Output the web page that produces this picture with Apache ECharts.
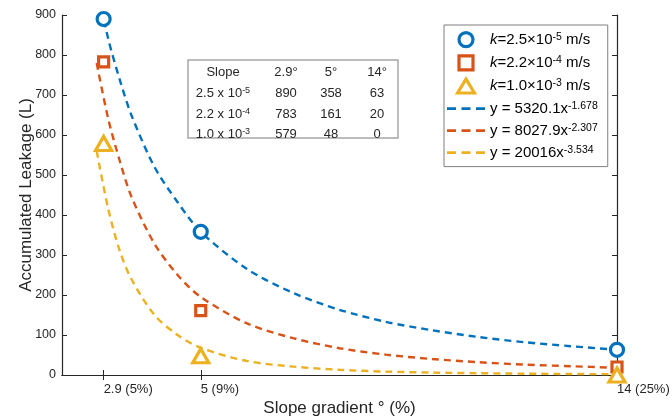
<!DOCTYPE html>
<html>
<head>
<meta charset="utf-8">
<script src="https://cdn.jsdelivr.net/npm/echarts@6/dist/echarts.min.js"></script>
<style>
  html, body { margin: 0; padding: 0; background: #fff; }
  #chart { width: 672px; height: 418px; }
</style>
</head>
<body>
<div id="chart"></div>
<script>
// measured leakage at each slope
const slopeDeg = [2.9, 5, 14];
const slopePct = ['5%', '9%', '25%'];
const leakK1 = [890, 358, 63];   // k = 2.5e-5 m/s
const leakK2 = [783, 161, 20];   // k = 2.2e-4 m/s
const leakK3 = [579, 48, 0];     // k = 1.0e-3 m/s

const kBase = ['2.5', '2.2', '1.0'];
const kExp = ['-5', '-4', '-3'];

// fitted power curves
const fitX = [2.75, 3, 3.25, 3.5, 4, 4.5, 5, 6, 7, 8, 9, 10, 11, 12, 13, 14];
const fitK1 = [975, 840, 738, 650, 520, 432, 358, 265, 205, 163, 133, 112, 95, 82, 72, 63];
const fitK2 = [780, 640, 535, 446, 328, 250, 195, 129, 92, 67, 51, 40, 32, 26, 22, 18];
const fitK3 = [560, 415, 310, 240, 150, 100, 68, 35, 21, 13, 8.5, 6, 4.5, 3.3, 2.5, 2];
const fitCoef = ['5320.1', '8027.9', '20016'];
const fitExp = ['-1.678', '-2.307', '-3.534'];

const colors = ['#0072BD', '#D95319', '#EDB120'];
const symbols = ['circle', 'rect', 'triangle'];
const symbolSizes = [13, 10, [16, 14]];
// legend icons as paths so they keep their aspect inside a wide icon box
const legendIcons = ['circle', 'path://M0,0L10,0L10,10L0,10Z', 'path://M6,0L12,10L0,10Z'];
const dashIcon = 'path://M0,0h9v2.6h-9zM14.5,0h9v2.6h-9zM29,0h9v2.6h-9z';
const FONT = '"Liberation Sans", Arial, sans-serif';
const INK = '#262626';

const chart = echarts.init(document.getElementById('chart'));

const pts = [leakK1, leakK2, leakK3];
const fits = [fitK1, fitK2, fitK3];

// legend names -> rich text
const scatterNames = kBase.map((b, i) => 'k' + i);
const fitNames = fitCoef.map((c, i) => 'fit' + i);
function legendText(name) {
  const i = +name.slice(-1);
  if (name[0] === 'k') {
    return '{i|k}=' + kBase[i] + '×10{s|' + kExp[i] + '} m/s';
  }
  return 'y = ' + fitCoef[i] + 'x{s|' + fitExp[i] + '}';
}

let series = [];
fits.forEach((f, i) => {
  series.push({
    name: fitNames[i],
    type: 'line',
    data: fitX.map((x, j) => [x, f[j]]),
    symbol: 'none',
    smooth: 0.3,
    clip: true,
    lineStyle: { color: colors[i], width: 2.4, type: [7, 5] },
    itemStyle: { color: colors[i] },
    z: 2
  });
});
pts.forEach((p, i) => {
  series.push({
    name: scatterNames[i],
    type: 'scatter',
    data: slopeDeg.map((x, j) => [x, p[j]]),
    symbol: symbols[i],
    symbolSize: symbolSizes[i],
    itemStyle: { color: '#fff', borderColor: colors[i], borderWidth: 3.2, opacity: 1 },
    z: 5
  });
});

let legendData = scatterNames.map((n, i) => ({
  name: n,
  icon: legendIcons[i],
  itemStyle: { color: '#fff', borderColor: colors[i], borderWidth: 3.2, opacity: 1 }
}));
legendData = legendData.concat(fitNames.map((n, i) => ({
  name: n,
  icon: dashIcon,
  itemStyle: { color: colors[i], borderWidth: 0, opacity: 1 }
})));

// small data table inside the plot
const tblX = [223, 286, 331, 377];
const tblY = [72, 93, 114, 134];
const cellStyle = {
  fill: INK,
  font: '13px ' + FONT,
  align: 'center',
  verticalAlign: 'middle'
};
let tableEls = [{
  type: 'rect',
  shape: { x: 188, y: 60, width: 210, height: 78 },
  style: { fill: '#fff', stroke: '#a6a6a6', lineWidth: 1.5 },
  z: 10
}];
const header = ['Slope'].concat(slopeDeg.map(d => d + '°'));
header.forEach((t, c) => {
  tableEls.push({ type: 'text', x: tblX[c], y: tblY[0], z: 11, style: Object.assign({ text: t }, cellStyle) });
});
pts.forEach((p, r) => {
  tableEls.push({
    type: 'text', x: tblX[0], y: tblY[r + 1], z: 11,
    style: Object.assign({
      text: kBase[r] + ' x 10{s|' + kExp[r] + '}',
      rich: { s: { fontSize: 9, fontFamily: FONT, fill: INK, verticalAlign: 'top', lineHeight: 10 } }
    }, cellStyle)
  });
  p.forEach((v, c) => {
    tableEls.push({ type: 'text', x: tblX[c + 1], y: tblY[r + 1], z: 11, style: Object.assign({ text: String(v) }, cellStyle) });
  });
});

const option = {
  animation: false,
  backgroundColor: '#fff',
  textStyle: { fontFamily: FONT },
  grid: { left: 62, right: 55, top: 15, bottom: 43, outerBoundsMode: 'none', containLabel: false },
  legend: {
    orient: 'vertical',
    left: 444,
    top: 25,
    data: legendData,
    itemWidth: 38,
    itemHeight: 14,
    itemGap: 6,
    padding: [6, 10, 6, 3],
    backgroundColor: '#fff',
    borderColor: '#7f7f7f',
    borderWidth: 1,
    formatter: legendText,
    textStyle: {
      fontSize: 15,
      color: '#000',
      fontFamily: FONT,
      lineHeight: 16,
      rich: {
        i: { fontStyle: 'italic', fontSize: 15, fontFamily: FONT, color: '#000', lineHeight: 16 },
        s: { fontSize: 10.5, fontFamily: FONT, color: '#000', verticalAlign: 'top', lineHeight: 8 }
      }
    }
  },
  xAxis: [
    {
      type: 'value',
      min: 2,
      max: 14,
      position: 'bottom',
      axisLine: { lineStyle: { color: INK, width: 1.2 } },
      axisTick: { inside: true, length: 5, customValues: slopeDeg, lineStyle: { color: INK } },
      axisLabel: {
        customValues: slopeDeg,
        formatter: v => v + ' (' + slopePct[slopeDeg.indexOf(v)] + ')',
        align: 'left',
        margin: 8,
        color: INK,
        fontSize: 13
      },
      splitLine: { show: false },
      name: 'Slope gradient ° (%)',
      nameLocation: 'middle',
      nameGap: 25,
      nameMoveOverlap: false,
      nameTextStyle: { fontSize: 17, color: INK }
    },
    {
      type: 'value',
      min: 2,
      max: 14,
      position: 'top',
      axisLine: { lineStyle: { color: INK, width: 1.2 } },
      axisTick: { inside: true, length: 5, customValues: slopeDeg, lineStyle: { color: INK } },
      axisLabel: { show: false },
      splitLine: { show: false }
    }
  ],
  yAxis: [
    {
      type: 'value',
      min: 0,
      max: 900,
      interval: 100,
      axisLine: { show: true, lineStyle: { color: INK, width: 1.2 } },
      axisTick: { show: true, inside: true, length: 5, lineStyle: { color: INK } },
      axisLabel: { margin: 6, color: INK, fontSize: 12.5 },
      splitLine: { show: false },
      name: 'Accumulated Leakage (L)',
      nameLocation: 'middle',
      nameGap: 27,
      nameMoveOverlap: false,
      nameTextStyle: { fontSize: 17, color: INK }
    },
    {
      type: 'value',
      min: 0,
      max: 900,
      interval: 100,
      position: 'right',
      axisLine: { show: true, lineStyle: { color: INK, width: 1.2 } },
      axisTick: { show: true, inside: true, length: 5, lineStyle: { color: INK } },
      axisLabel: { show: false },
      splitLine: { show: false }
    }
  ],
  graphic: { elements: tableEls },
  series: series
};

chart.setOption(option);
</script>
</body>
</html>
